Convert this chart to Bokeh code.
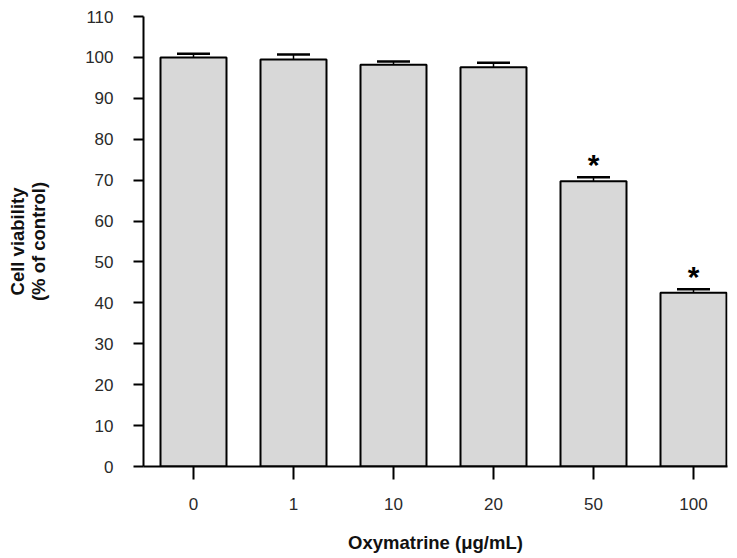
from bokeh.plotting import figure
from bokeh.models import Range1d, FixedTicker, ColumnDataSource, Whisker, TeeHead
from bokeh.embed import file_html
from bokeh.resources import INLINE
from bokeh.core.properties import value

categories = ["0", "1", "10", "20", "50", "100"]
viability = [100.0, 99.5, 98.2, 97.6, 69.7, 42.5]
errors = [0.9, 1.2, 0.8, 1.1, 1.0, 0.8]
marks = ["", "", "", "", "*", "*"]
y_ticks = [0, 10, 20, 30, 40, 50, 60, 70, 80, 90, 100, 110]

xs = list(range(len(categories)))
upper = [v + e for v, e in zip(viability, errors)]
src = ColumnDataSource(dict(x=xs, top=viability, upper=upper, mark=marks))

FONT = "Liberation Sans"

p = figure(width=737, height=558, output_backend="svg", toolbar_location=None,
           x_range=Range1d(-0.5, 5.34), y_range=Range1d(0, 110),
           min_border_left=143, min_border_right=10, min_border_top=16,
           min_border_bottom=92)

p.vbar(x="x", top="top", width=0.66, source=src, fill_color="#d8d8d8",
       line_color="black", line_width=2)

p.add_layout(Whisker(source=src, base="x", upper="upper", lower="top",
                     upper_head=TeeHead(size=33, line_width=2.5, line_color="black"),
                     lower_head=None, line_width=1.5, line_color="black"))

p.text(x="x", y="upper", text="mark", source=src, text_align="center",
       text_baseline="alphabetic", text_font=value(FONT), text_font_style="bold",
       text_font_size="30px", text_color="black", y_offset=-13)

p.xgrid.visible = False
p.ygrid.visible = False
p.outline_line_color = None
p.background_fill_color = "white"

for ax in (p.xaxis, p.yaxis):
    ax.axis_line_width = 2
    ax.axis_line_color = "black"
    ax.major_tick_line_width = 2
    ax.major_tick_line_color = "black"
    ax.major_tick_in = 0
    ax.minor_tick_out = 0
    ax.minor_tick_in = 0
    ax.major_label_text_font = FONT
    ax.major_label_text_font_size = "17px"
    ax.major_label_text_color = "#2a2a2a"
    ax.axis_label_text_font = FONT
    ax.axis_label_text_font_style = "bold"
    ax.axis_label_text_font_size = "18.5px"
    ax.axis_label_text_color = "#111111"
    ax.axis_label_text_line_height = 1.0

p.xaxis.ticker = FixedTicker(ticks=xs)
p.xaxis.major_label_overrides = {i: c for i, c in enumerate(categories)}
p.xaxis.major_tick_out = 13
p.xaxis.major_label_standoff = 18
p.xaxis.axis_label = "Oxymatrine (μg/mL)"
p.xaxis.axis_label_standoff = 19

p.yaxis.ticker = FixedTicker(ticks=y_ticks)
p.yaxis.major_tick_out = 10
p.yaxis.major_label_standoff = 20
p.yaxis.axis_label = "Cell viability\n(% of control)"
p.yaxis.axis_label_standoff = 33

open("out.html", "w").write(file_html(p, INLINE))
